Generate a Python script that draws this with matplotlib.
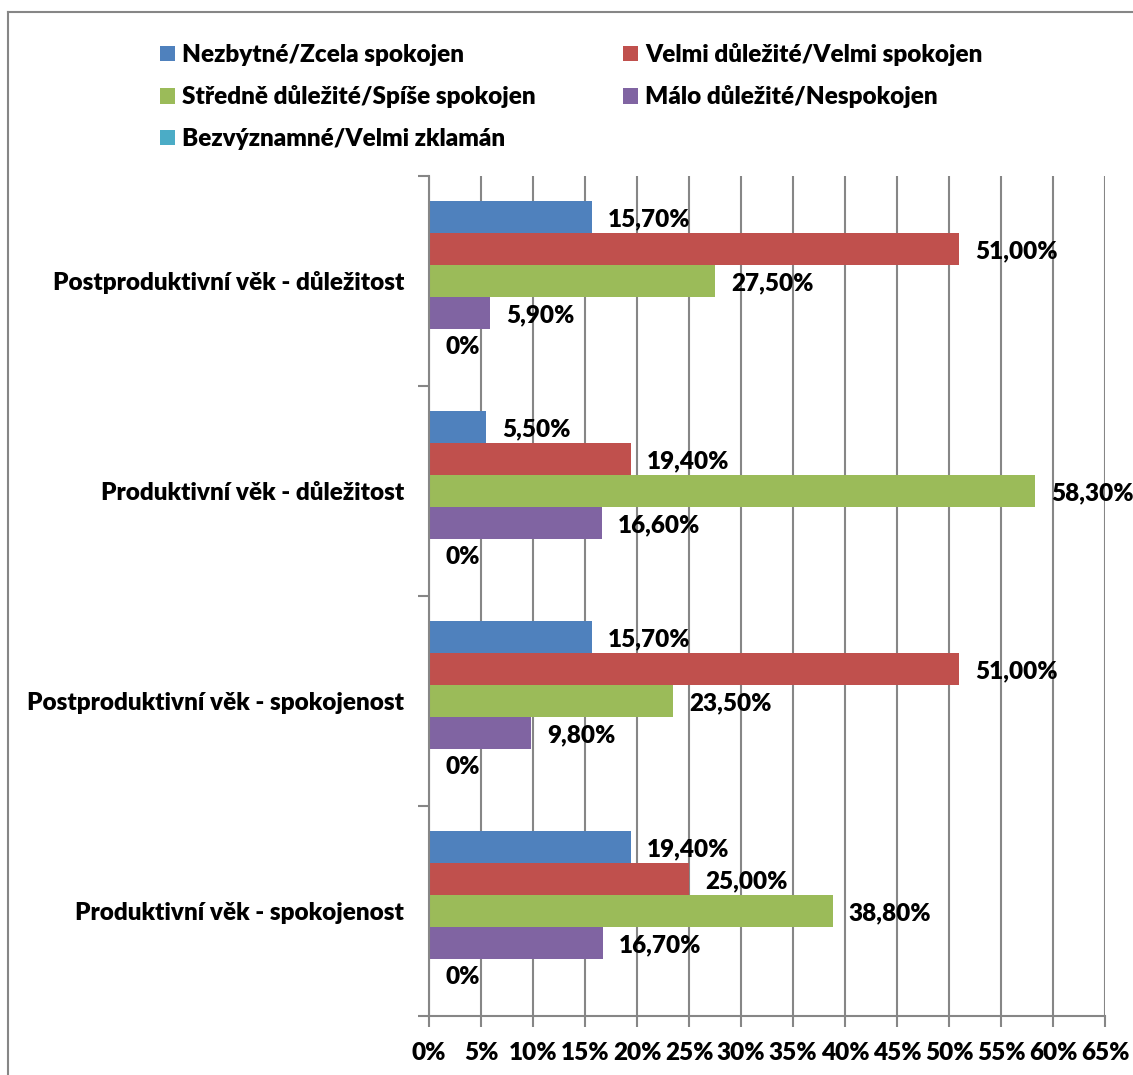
import matplotlib.pyplot as plt
import numpy as np
from matplotlib.patches import Patch
from matplotlib.lines import Line2D

plt.rcParams['font.family'] = ['Lato', 'DejaVu Sans']
plt.rcParams['font.weight'] = 'heavy'

# Skupiny (shora dolů) a hodnoty v procentech
kategorie = ["Postproduktivní věk - důležitost",
             "Produktivní věk - důležitost",
             "Postproduktivní věk - spokojenost",
             "Produktivní věk - spokojenost"]
nezbytne = [15.7, 5.5, 15.7, 19.4]
velmi = [51.0, 19.4, 51.0, 25.0]
stredne = [27.5, 58.3, 23.5, 38.8]
malo = [5.9, 16.6, 9.8, 16.7]
bezvyznamne = [0.0, 0.0, 0.0, 0.0]

serie = ["Nezbytné/Zcela spokojen", "Velmi důležité/Velmi spokojen",
         "Středně důležité/Spíše spokojen", "Málo důležité/Nespokojen",
         "Bezvýznamné/Velmi zklamán"]
barvy = ["#4F81BD", "#C0504D", "#9BBB59", "#8064A2", "#4BACC6"]
osa_ticks = list(range(0, 70, 5))

hodnoty = [nezbytne, velmi, stredne, malo, bezvyznamne]

FS = 17.5
W = 'heavy'
fig = plt.figure(figsize=(11.33, 10.75), dpi=100)
ax = fig.add_axes([429 / 1133, 1 - 1016 / 1075, 676 / 1133, 840 / 1075])

pozice = np.arange(len(kategorie))
vyska = 32 / 210
sedy = "#868686"

for k, (vals, barva) in enumerate(zip(hodnoty, barvy)):
    y = pozice + (k - 2) * vyska
    ax.barh(y, vals, height=vyska, color=barva, edgecolor='none', zorder=3)
    for yi, v in zip(y, vals):
        txt = "0%" if v == 0 else f"{v:.2f}".replace('.', ',') + "%"
        ax.annotate(txt, xy=(v, yi), xytext=(16, -2), textcoords='offset pixels',
                    va='center', ha='left', fontsize=FS, fontweight=W,
                    color='black', zorder=4)

ax.set_xlim(0, 65)
ax.set_ylim(len(kategorie) - 0.5, -0.5)

ax.set_xticks(osa_ticks)
ax.set_xticklabels([f"{t}%" for t in osa_ticks], fontsize=FS, fontweight=W)
ax.set_yticks(pozice)
ax.set_yticklabels(kategorie, fontsize=FS, fontweight=W)
ax.set_yticks(np.arange(-0.5, len(kategorie)), minor=True)
ax.tick_params(axis='y', which='major', length=0, pad=18)
ax.tick_params(axis='y', which='minor', length=8, width=1.5, color=sedy, direction='out')
ax.tick_params(axis='x', length=8, width=1.5, color=sedy, direction='out', pad=11)

ax.grid(axis='x', color=sedy, linewidth=1.5, zorder=0)
for s in ['top', 'right']:
    ax.spines[s].set_visible(False)
for s in ['left', 'bottom']:
    ax.spines[s].set_color(sedy)
    ax.spines[s].set_linewidth(1.5)
    ax.spines[s].set_zorder(5)

# Legenda ve dvou sloupcích, pořadí po řádcích
poradi = [0, 2, 4, 1, 3]
handles = [Patch(facecolor=barvy[i], edgecolor='none') for i in poradi]
labels = [serie[i] for i in poradi]
fig.legend(handles, labels, ncol=2, loc='upper left',
           bbox_to_anchor=(160 / 1133, 1 - 43 / 1075), frameon=False,
           borderpad=0, borderaxespad=0,
           handlelength=0.6, handleheight=0.6,
           handletextpad=0.3, columnspacing=3.6, labelspacing=0.8,
           prop={'weight': W, 'size': FS})

# Rámeček grafu
fig.add_artist(Line2D([8 / 1133, 8 / 1133], [0, 1 - 12 / 1075], transform=fig.transFigure,
                      color=sedy, linewidth=1.5))
fig.add_artist(Line2D([8 / 1133, 1], [1 - 12 / 1075, 1 - 12 / 1075], transform=fig.transFigure,
                      color=sedy, linewidth=1.5))

fig.savefig("out.png", dpi=100)
